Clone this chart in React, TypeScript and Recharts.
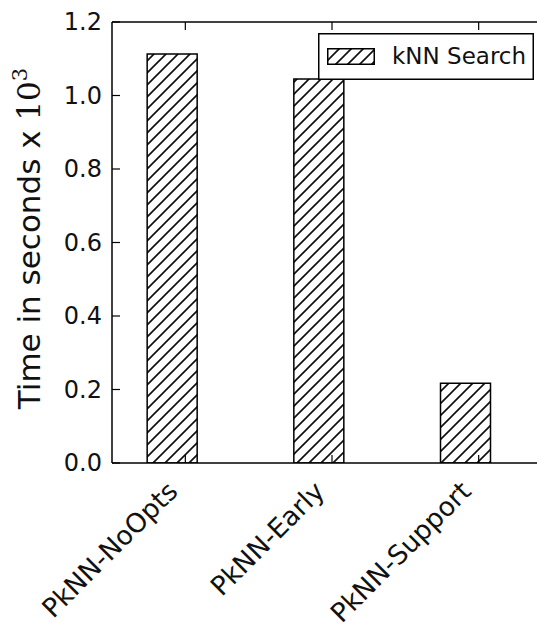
import React from 'react';
import { BarChart, Bar, XAxis, YAxis } from 'recharts';

const categories = ['PkNN-NoOpts', 'PkNN-Early', 'PkNN-Support'];
const knnSearch = [1.113, 1.045, 0.217];
const seriesName = 'kNN Search';
const yTicks = [0, 0.2, 0.4, 0.6, 0.8, 1.0, 1.2];
const xTicks = [0, 1, 2];

const data = categories.map((c, i) => ({ idx: i, name: c, knn: knnSearch[i] }));

const FONT = '"DejaVu Sans", sans-serif';
const TICK_LEN = 8;
const INK = '#111';

function BottomTick(props: any) {
  const { x, y, payload } = props;
  const tx = x - 6;
  const ty = y + 30;
  return (
    <g>
      <line x1={x} y1={y} x2={x} y2={y - TICK_LEN} stroke="#000" strokeWidth={1.2} />
      <text x={tx} y={ty} textAnchor="end" transform={`rotate(-45, ${tx}, ${ty})`} fontSize={26.5} fontFamily={FONT} fill={INK}>
        {categories[payload.value]}
      </text>
    </g>
  );
}

function TopTick(props: any) {
  const { x, y } = props;
  return <line x1={x} y1={y} x2={x} y2={y + TICK_LEN} stroke="#000" strokeWidth={1.2} />;
}

function LeftTick(props: any) {
  const { x, y, payload } = props;
  return (
    <g>
      <line x1={x} y1={y} x2={x + TICK_LEN} y2={y} stroke="#000" strokeWidth={1.2} />
      <text x={x - 10} y={y + 8} textAnchor="end" fontSize={24} fontFamily={FONT} fill={INK}>
        {Number(payload.value).toFixed(1)}
      </text>
    </g>
  );
}

function RightTick(props: any) {
  const { x, y } = props;
  return <line x1={x} y1={y} x2={x - TICK_LEN} y2={y} stroke="#000" strokeWidth={1.2} />;
}

function YTitle(props: any) {
  const vb = props.viewBox || { x: 0, y: 0, width: 104, height: 441 };
  const cx = vb.x + 32;
  const cy = vb.y + vb.height / 2 - 4;
  return (
    <text x={cx} y={cy} textAnchor="middle" transform={`rotate(-90, ${cx}, ${cy})`} fontSize={31} fontFamily={FONT} fill={INK}>
      Time in seconds x{' '}
      <tspan fontFamily='"DejaVu Serif", serif'>10</tspan>
      <tspan fontFamily='"DejaVu Serif", serif' fontSize={21} dy={-13}>3</tspan>
    </text>
  );
}

// Legend box drawn in the chart's SVG, anchored to the top axis box
function LegendInPlot(props: any) {
  const vb = props.viewBox || { x: 104, y: 0, width: 440, height: 14 };
  const W = 216;
  const H = 47;
  const lx = vb.x + 206;
  const ly = vb.y + vb.height + 11;
  return (
    <g>
      <rect x={lx + 0.75} y={ly + 0.75} width={W - 1.5} height={H - 1.5} fill="#fff" stroke="#000" strokeWidth={1.5} />
      <rect x={lx + 9.75} y={ly + 15.75} width={46.5} height={15.5} fill="url(#hatch)" stroke="#000" strokeWidth={1.5} />
      <text x={lx + 74} y={ly + 31} fontSize={23} fontFamily={FONT} fill={INK}>{seriesName}</text>
    </g>
  );
}

export default function App() {
  return (
    <div style={{ width: 537, height: 618, overflow: 'hidden', position: 'relative' }}>
      <svg width={0} height={0} style={{ position: 'absolute' }}>
        <defs>
          <pattern id="hatch" patternUnits="userSpaceOnUse" width={12} height={12}>
            <rect x={0} y={0} width={12} height={12} fill="#fff" />
            <path d="M-3,3 L3,-3 M0,12 L12,0 M9,15 L15,9" stroke="#111" strokeWidth={1.7} />
          </pattern>
        </defs>
      </svg>
      <BarChart width={537} height={618} data={data} margin={{ top: 0, right: -7, bottom: 0, left: 0 }}>
        <XAxis
          xAxisId="bottom"
          type="number"
          dataKey="idx"
          domain={[-0.5, 2.5]}
          ticks={xTicks}
          allowDataOverflow
          height={163}
          tickSize={0}
          tickMargin={0}
          interval={0}
          axisLine={{ stroke: '#000', strokeWidth: 1.5 }}
          tickLine={false}
          tick={<BottomTick />}
        />
        <XAxis
          xAxisId="bars"
          type="number"
          dataKey="idx"
          domain={[-0.4125, 2.5875]}
          allowDataOverflow
          height={0}
          hide
        />
        <YAxis
          yAxisId="left"
          domain={[0, 1.2]}
          ticks={yTicks}
          allowDataOverflow
          width={104}
          tickSize={0}
          tickMargin={0}
          interval={0}
          axisLine={{ stroke: '#000', strokeWidth: 1.5 }}
          tickLine={false}
          tick={<LeftTick />}
          label={<YTitle />}
        />
        <YAxis
          yAxisId="right"
          orientation="right"
          domain={[0, 1.2]}
          ticks={yTicks}
          allowDataOverflow
          width={0}
          tickSize={0}
          tickMargin={0}
          interval={0}
          axisLine={{ stroke: '#000', strokeWidth: 1.5 }}
          tickLine={false}
          tick={<RightTick />}
        />
        <Bar
          xAxisId="bars"
          yAxisId="left"
          dataKey="knn"
          name={seriesName}
          barSize={50}
          fill="url(#hatch)"
          stroke="#000"
          strokeWidth={1.5}
          isAnimationActive={false}
        />
        <XAxis
          xAxisId="top"
          orientation="top"
          type="number"
          dataKey="idx"
          domain={[-0.5, 2.5]}
          ticks={xTicks}
          allowDataOverflow
          height={14}
          tickSize={0}
          tickMargin={0}
          interval={0}
          axisLine={{ stroke: '#000', strokeWidth: 1.5 }}
          tickLine={false}
          tick={<TopTick />}
          label={<LegendInPlot />}
        />
      </BarChart>
    </div>
  );
}
